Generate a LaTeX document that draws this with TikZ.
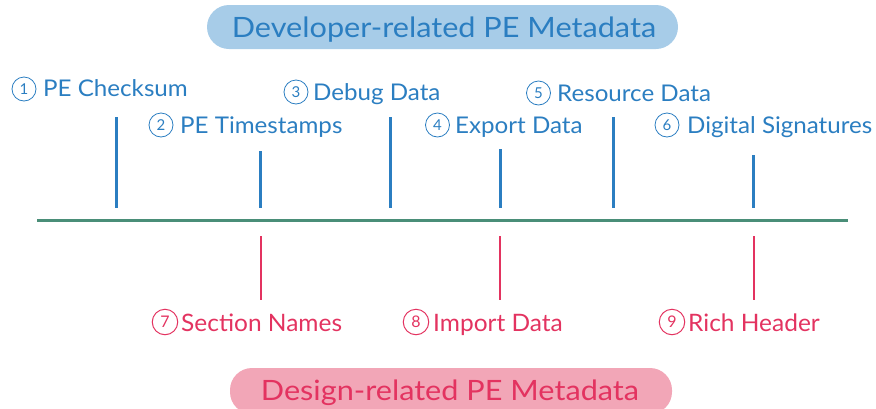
\documentclass[tikz,border=0pt]{standalone}
\usepackage{fontspec}
\setmainfont{Lato}
\newfontfamily\ttlfont[FakeStretch=1.095]{Lato}
\newfontfamily\lblfont[FakeStretch=1.05]{Lato}
\newfontfamily\lblrfont[FakeStretch=1.02]{Lato}
\definecolor{cblue}{HTML}{2B7EC1}
\definecolor{cpillb}{HTML}{A7CCE8}
\definecolor{cred}{HTML}{E33360}
\definecolor{cpillr}{HTML}{F2A6B7}
\definecolor{cgreen}{HTML}{4A8E78}
\begin{document}
\begin{tikzpicture}[x=1pt,y=-1pt,
  lbl/.style={anchor=base west, inner sep=0pt, font=\lblfont\fontsize{23}{24}\selectfont},
  lblr/.style={anchor=base west, inner sep=0pt, cred, font=\lblrfont\fontsize{24}{24}\selectfont},
  num/.style={circle, draw, line width=0.8pt, minimum size=24pt, inner sep=0pt, font=\fontsize{15}{15}\selectfont},
  numr/.style={num, cred, line width=1pt, minimum size=25.5pt, font=\fontsize{16}{16}\selectfont},
  tickb/.style={cblue, line width=3pt},
  tickr/.style={cred, line width=2.2pt},
  title/.style={anchor=base, inner sep=0pt, font=\ttlfont\fontsize{28}{30}\selectfont}]
\useasboundingbox (0,0) rectangle (876,408);
% pills
\fill[cpillb, rounded corners=22pt] (207,5) rectangle (678,49);
\node[title, cblue] (devt) at (444,37.5) {Developer-related PE Metadata};
\fill[cpillr, rounded corners=22pt] (230,368) rectangle (672,414);
\node[title, cred] (dest) at (450,400.5) {Design-related PE Metadata};
% axis
\coordinate (axl) at (37,220.5);
\coordinate (axr) at (848,220.5);
\draw[cgreen, line width=3pt] (axl) -- (axr);
% top ticks
\foreach \n/\x/\t in {1/116/117, 2/260/151, 3/390/117, 4/500/149, 5/613/117, 6/753/155}{
  \coordinate (bt\n) at (\x,\t);
  \coordinate (bb\n) at (\x,208);
  \draw[tickb] (bt\n) -- (bb\n);
}
% bottom ticks
\foreach \n/\x in {7/261, 8/500, 9/754}{
  \coordinate (rt\n) at (\x,236);
  \coordinate (rb\n) at (\x,300);
  \draw[tickr] (rt\n) -- (rb\n);
}
% labels
\node[num, cblue] (c1) at (24,89) {1};
\node[lbl, cblue] (l1) at (43,96) {PE Checksum};
\node[num, cblue] (c2) at (161,125) {2};
\node[lbl, cblue] (l2) at (180,133) {PE Timestamps};
\node[num, cblue] (c3) at (296,92) {3};
\node[lbl, cblue] (l3) at (313,100.5) {Debug Data};
\node[num, cblue] (c4) at (437.5,125) {4};
\node[lbl, cblue] (l4) at (455,133) {Export Data};
\node[num, cblue] (c5) at (538.5,93) {5};
\node[lbl, cblue] (l5) at (557,101.5) {Resource Data};
\node[num, cblue] (c6) at (667,125) {6};
\node[lbl, cblue] (l6) at (687,133) {Digital Signatures};
\node[numr] (c7) at (165,322) {7};
\node[lblr] (l7) at (181,331) {Section Names};
\node[numr] (c8) at (416,322) {8};
\node[lblr] (l8) at (433,331) {Import Data};
\node[numr] (c9) at (672,322) {9};
\node[lblr] (l9) at (688,331) {Rich Header};
\end{tikzpicture}
\end{document}
